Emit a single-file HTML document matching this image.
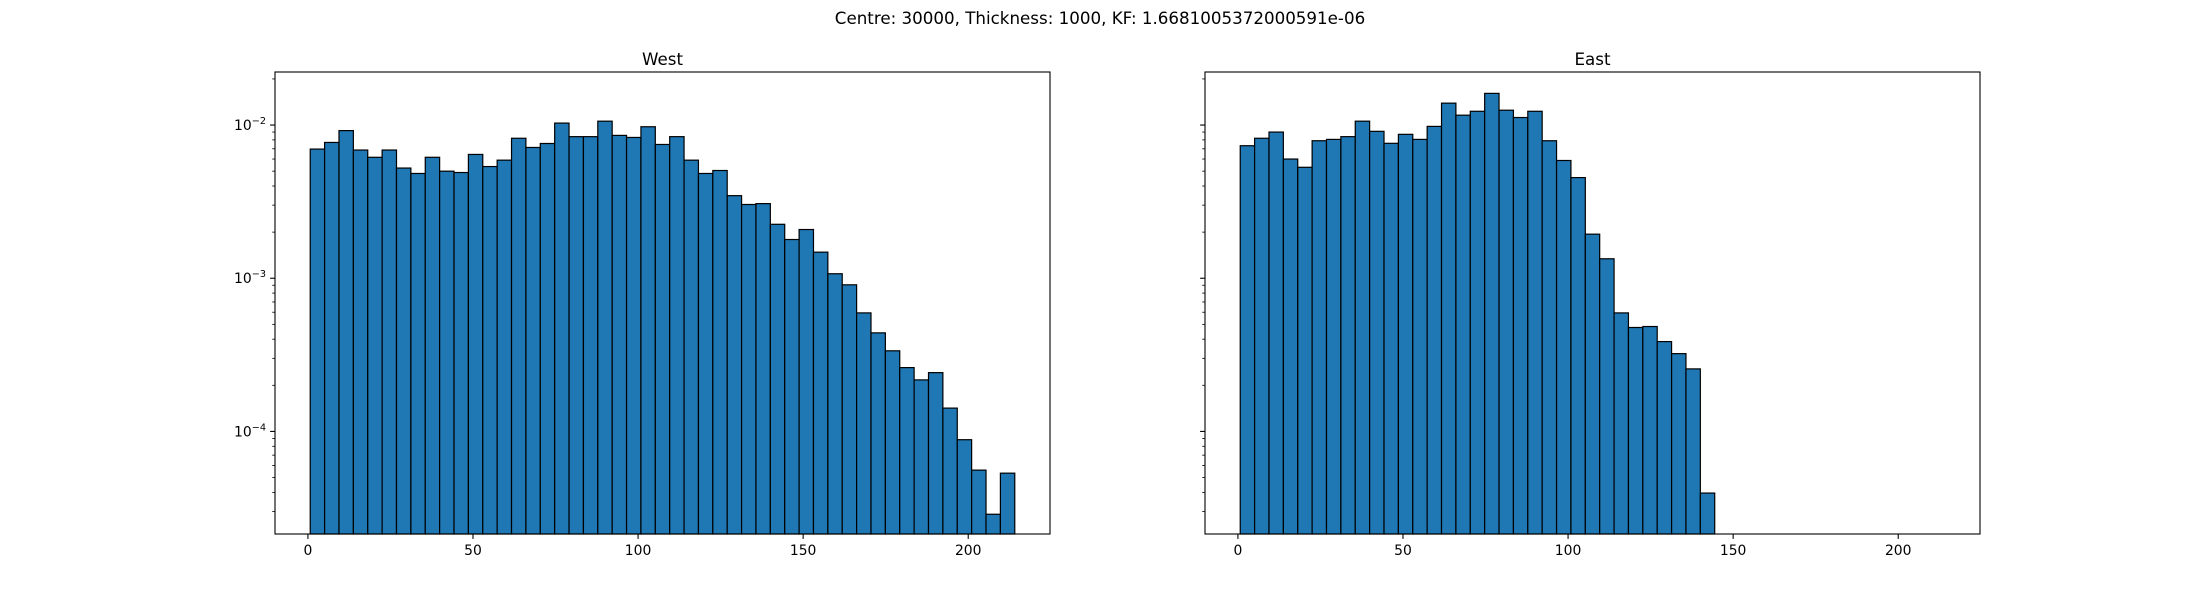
<!DOCTYPE html>
<html><head><meta charset="utf-8">
<style>
html,body{margin:0;padding:0;background:#fff;}
svg{display:block;font-family:"DejaVu Sans","Liberation Sans",sans-serif;}
</style></head>
<body>
<svg id="fig" width="2200" height="600" viewBox="0 0 2200 600" xmlns="http://www.w3.org/2000/svg">
<rect width="2200" height="600" fill="#fff"/>
<text x="1100" y="24" text-anchor="middle" font-size="16.7">Centre: 30000, Thickness: 1000, KF: 1.6681005372000591e-06</text>
</svg>
<script>
const westValues=[6.97e-3,7.7e-3,9.2e-3,6.87e-3,6.16e-3,6.87e-3,5.24e-3,4.83e-3,6.16e-3,5.0e-3,4.9e-3,6.43e-3,5.36e-3,5.9e-3,8.2e-3,7.14e-3,7.58e-3,1.03e-2,8.4e-3,8.4e-3,1.06e-2,8.56e-3,8.3e-3,9.75e-3,7.47e-3,8.4e-3,5.9e-3,4.83e-3,5.05e-3,3.46e-3,3.03e-3,3.07e-3,2.25e-3,1.79e-3,2.08e-3,1.48e-3,1.07e-3,9.06e-4,5.94e-4,4.4e-4,3.36e-4,2.61e-4,2.17e-4,2.42e-4,1.42e-4,8.83e-5,5.59e-5,2.88e-5,5.34e-5];
const eastValues=[7.33e-3,8.2e-3,9.0e-3,6.0e-3,5.3e-3,7.9e-3,8.06e-3,8.4e-3,1.06e-2,9.1e-3,7.6e-3,8.7e-3,8.06e-3,9.8e-3,1.39e-2,1.16e-2,1.23e-2,1.61e-2,1.25e-2,1.12e-2,1.23e-2,7.9e-3,5.87e-3,4.54e-3,1.94e-3,1.34e-3,5.94e-4,4.77e-4,4.84e-4,3.86e-4,3.22e-4,2.56e-4,3.96e-5];
const binStart=0.7;
const binEnd=214.1;
const binCount=49;
const xTicks=[0,50,100,150,200];
const yDecades=[-4,-3,-2];
const yMin=2.14e-5, yMax=2.22e-2;

const svg=document.getElementById('fig');
const NS='http://www.w3.org/2000/svg';
function mk(tag,attrs,parent){const e=document.createElementNS(NS,tag);for(const k in attrs)e.setAttribute(k,attrs[k]);(parent||svg).appendChild(e);return e;}
const binW=(binEnd-binStart)/binCount;
const span=binEnd-binStart;
const xLo=binStart-0.05*span, xHi=binEnd+0.05*span;
const axTop=72, axBottom=534;
function yScale(v){const l=Math.log10(v),a=Math.log10(yMin),b=Math.log10(yMax);return axBottom-(l-a)/(b-a)*(axBottom-axTop);}

function panel(left,right,title,values,showY,key){
  const g=mk('g',{});
  
  
  const xs=v=>left+(v-xLo)/(xHi-xLo)*(right-left);
  values.forEach((v,i)=>{
    const x0=xs(binStart+i*binW),x1=xs(binStart+(i+1)*binW),y=yScale(v);
    const r=mk('rect',{x:x0,y:y,width:x1-x0,height:axBottom-y,fill:'#1f77b4',stroke:'#000','stroke-width':1.2},g);
    
    
  });
  const fr=mk('rect',{x:left,y:axTop,width:right-left,height:axBottom-axTop,fill:'none',stroke:'#000','stroke-width':1.1},g);
  
  
  xTicks.forEach(t=>{
    const x=xs(t);
    mk('line',{x1:x,x2:x,y1:axBottom,y2:axBottom+4.9,stroke:'#000','stroke-width':1.1},g);
    const tx=mk('text',{x:x,y:axBottom+21,'text-anchor':'middle','font-size':13.9},g);
    tx.textContent=t;
    
    
  });
  for(let d=-5;d<=-1;d++){
    for(let m=1;m<10;m++){
      const v=m*Math.pow(10,d);
      if(v<yMin||v>yMax)continue;
      const y=yScale(v);
      const major=m===1;
      mk('line',{x1:left,x2:left-(major?4.9:2.8),y1:y,y2:y,stroke:'#000','stroke-width':major?1.1:0.8},g);
    }
  }
  if(showY){
    yDecades.forEach(d=>{
      const y=yScale(Math.pow(10,d));
      const tx=mk('text',{x:left-9,y:y+5,'text-anchor':'end','font-size':13.9},g);
      
      
      tx.appendChild(document.createTextNode('10'));
      const s=mk('tspan',{dy:-6,'font-size':9.7},tx);
      s.textContent='\u2212'+Math.abs(d);
    });
  }
  const tt=mk('text',{x:(left+right)/2,y:65,'text-anchor':'middle','font-size':16.7},g);
  tt.textContent=title;
  
  
}
panel(275,1050,'West',westValues,true,'west');
panel(1205,1980,'East',eastValues,false,'east');
</script>
</body></html>
